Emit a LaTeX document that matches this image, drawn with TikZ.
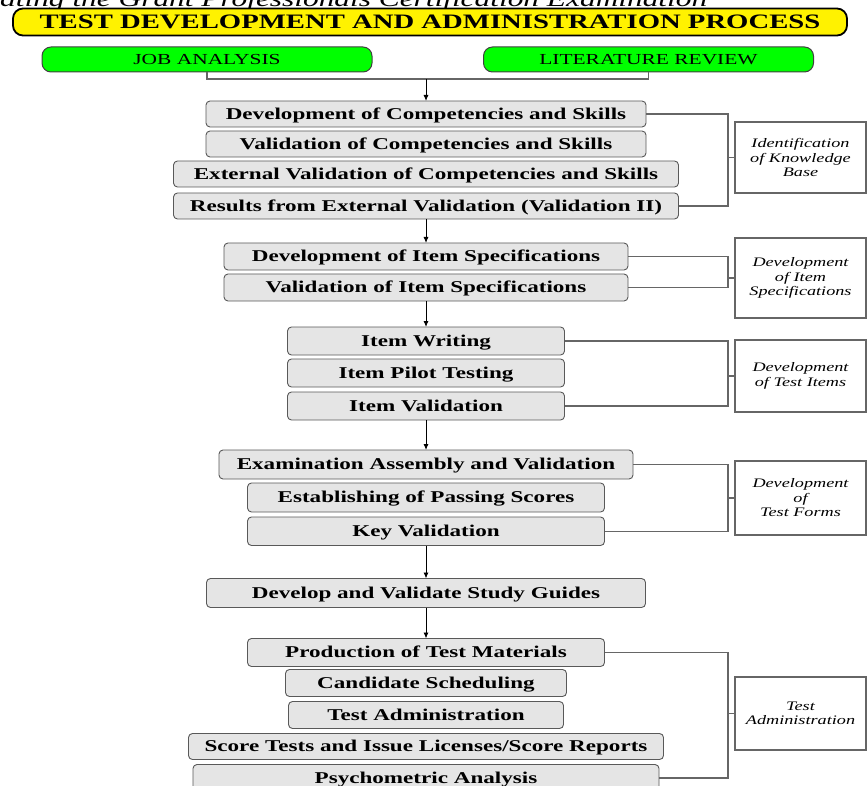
\documentclass[tikz,border=0pt]{standalone}
\usepackage{fontspec}
\setmainfont{Liberation Serif}[FakeStretch=1.4]
\usetikzlibrary{positioning,arrows.meta}

\tikzset{
  stage/.style={draw=black!65, fill=black!10, rounded corners=4pt, line width=0.9pt,
    minimum height=27pt, inner sep=0pt, outer sep=0pt, text height=14pt, text depth=3.1pt,
    font=\fontsize{16.5}{18}\selectfont\bfseries},
  phase/.style={draw=black!60, line width=1.3pt, fill=white, minimum width=131pt,
    align=center, inner sep=0pt, outer sep=0pt, font=\fontsize{13}{14.5}\selectfont\itshape},
  source/.style={draw=black!75, line width=1pt, fill=green, rounded corners=9pt,
    minimum width=330pt, minimum height=25pt, inner sep=0pt, outer sep=0pt,
    text height=13pt, text depth=2.9pt, font=\fontsize{15.3}{17}\selectfont},
  link/.style={draw=black!60, line width=1.3pt},
  flow/.style={-{Latex[length=6pt,width=5pt]}, line width=0.9pt},
}

\begin{document}
\begin{tikzpicture}[x=1pt, y=1pt, node distance=4pt]
  \useasboundingbox (0,0) rectangle (867,-786);

  \node (C) [anchor=base west, inner sep=0pt, font=\fontsize{22.4}{23}\selectfont\itshape] at (0,-7) {ating the Grant Professionals Certification Examination};
  \node (T) [draw, line width=1.8pt, fill=yellow, rounded corners=10pt, minimum width=834pt, minimum height=27pt,
    inner sep=0pt, text height=17pt, text depth=3.4pt, font=\fontsize{20.5}{22}\selectfont\bfseries] at (430,-22) {TEST DEVELOPMENT AND ADMINISTRATION PROCESS};
  \node (J) [source] at (207,-59.5) {JOB ANALYSIS};
  \node (R) [source] at (648.5,-59.5) {LITERATURE REVIEW};
  \coordinate (M0) at (426,-79);

  % knowledge base
  \node (K1) [stage, minimum width=440pt, minimum height=26pt] at (426,-114) {Development of Competencies and Skills};
  \node (K2) [stage, minimum width=440pt, minimum height=26pt, below=4pt of K1] {Validation of Competencies and Skills};
  \node (K3) [stage, minimum width=505pt, minimum height=26pt, below=4pt of K2] {External Validation of Competencies and Skills};
  \node (K4) [stage, minimum width=505pt, minimum height=26pt, below=6pt of K3] {Results from External Validation (Validation II)};

  % item specifications
  \node (S1) [stage, minimum width=404pt, below=24pt of K4] {Development of Item Specifications};
  \node (S2) [stage, minimum width=404pt, below=of S1] {Validation of Item Specifications};

  % test items
  \node (I1) [stage, minimum width=277pt, minimum height=28pt, below=26pt of S2] {Item Writing};
  \node (I2) [stage, minimum width=277pt, minimum height=28pt, below=of I1] {Item Pilot Testing};
  \node (I3) [stage, minimum width=277pt, minimum height=28pt, below=5pt of I2] {Item Validation};

  % test forms
  \node (F1) [stage, minimum width=414pt, minimum height=29pt, below=30pt of I3] {Examination Assembly and Validation};
  \node (F2) [stage, minimum width=357pt, minimum height=29pt, below=of F1] {Establishing of Passing Scores};
  \node (F3) [stage, minimum width=357pt, minimum height=28.5pt, below=5pt of F2] {Key Validation};

  \node (G) [stage, minimum width=439pt, minimum height=29pt, below=33pt of F3] {Develop and Validate Study Guides};

  % administration
  \node (A1) [stage, minimum width=357pt, minimum height=28pt, below=31pt of G] {Production of Test Materials};
  \node (A2) [stage, minimum width=281pt, below=3pt of A1] {Candidate Scheduling};
  \node (A3) [stage, minimum width=275pt, below=5pt of A2] {Test Administration};
  \node (A4) [stage, minimum width=475pt, minimum height=26pt, below=5pt of A3] {Score Tests and Issue Licenses/Score Reports};
  \node (A5) [stage, minimum width=466pt, below=5pt of A4] {Psychometric Analysis};

  % phase labels
  \node (L1) [phase, minimum height=71pt] at (800.5,-157.5) {Identification\\of Knowledge\\Base};
  \node (L2) [phase, minimum height=80pt] at (800.5,-278) {Development\\of Item\\Specifications};
  \node (L3) [phase, minimum height=72pt] at (800.5,-376) {Development\\of Test Items};
  \node (L4) [phase, minimum height=74pt] at (800.5,-498) {Development\\of\\Test Forms};
  \node (L5) [phase, minimum height=73pt] at (800.5,-713.5) {Test\\Administration};

  \draw[link] (J.south) |- (M0) -| (R.south);
  \draw[flow] (M0) -- (K1);
  \draw[flow] (K4) -- (S1);
  \draw[flow] (S2) -- (I1);
  \draw[flow] (I3) -- (F1);
  \draw[flow] (F3) -- (G);
  \draw[flow] (G) -- (A1);

  \draw[link] (K1.east) -| ([xshift=-7pt]L1.west) |- (K4.east);
  \draw[link] ([xshift=-7pt]L1.west) -- (L1.west);
  \draw[link] (S1.east) -| ([xshift=-7pt]L2.west) |- (S2.east);
  \draw[link] ([xshift=-7pt]L2.west) -- (L2.west);
  \draw[link] (I1.east) -| ([xshift=-7pt]L3.west) |- (I3.east);
  \draw[link] ([xshift=-7pt]L3.west) -- (L3.west);
  \draw[link] (F1.east) -| ([xshift=-7pt]L4.west) |- (F3.east);
  \draw[link] ([xshift=-7pt]L4.west) -- (L4.west);
  \draw[link] (A1.east) -| ([xshift=-7pt]L5.west) |- (A5.east);
  \draw[link] ([xshift=-7pt]L5.west) -- (L5.west);
\end{tikzpicture}
\end{document}
